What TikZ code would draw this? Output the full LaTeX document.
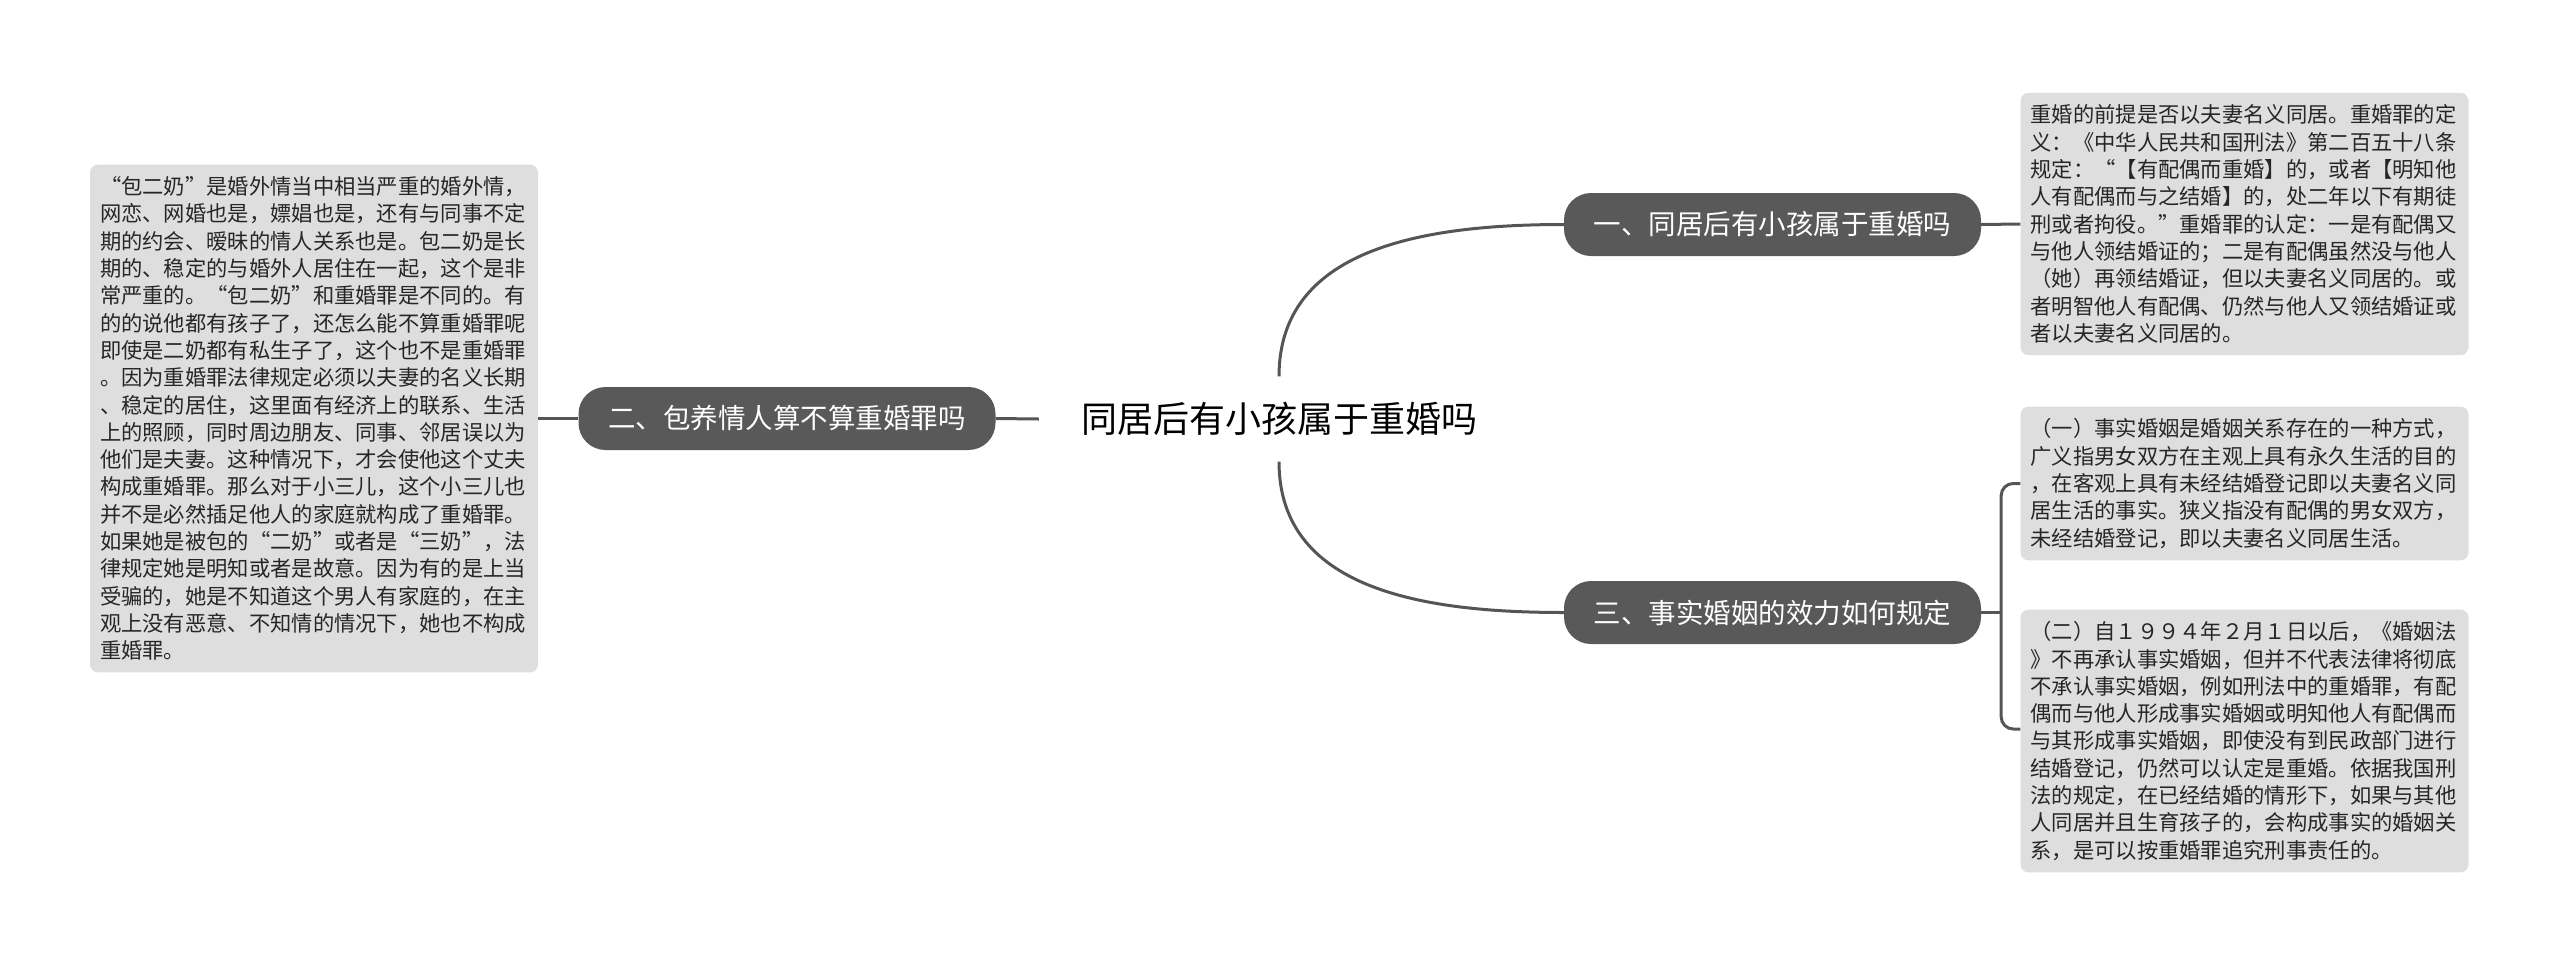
\documentclass[tikz,border=0pt]{standalone}
\usepackage{fontspec}
\setmainfont{Noto Sans CJK SC}
\usepackage{xcolor}
\definecolor{topicgray}{HTML}{595959}
\definecolor{notegray}{HTML}{DEDEDE}
\definecolor{linkgray}{HTML}{555555}

\begin{document}
\begin{tikzpicture}[x=1pt,y=-1pt,
    link/.style={draw=linkgray, line width=3pt},
    topic/.style={fill=topicgray, text=white, rounded corners=27pt, minimum width=417pt, minimum height=63pt, inner sep=0pt, font=\fontsize{27.5}{30}\selectfont},
    note/.style={fill=notegray, text=black!85, rounded corners=8pt, text width=428pt, align=left, inner xsep=10pt, inner ysep=12pt, font=\fontsize{21.3}{27.3}\selectfont}]
    % Page frame
    \useasboundingbox (0,0) rectangle (2560,967);
    % Central topic
    \node[font=\fontsize{36}{40}\selectfont, inner xsep=42pt, minimum height=85pt] (root) at (1279,419) {同居后有小孩属于重婚吗};
    % Branches
    \node[topic] (t1) at (1772.5,224.5) {一、同居后有小孩属于重婚吗};
    \node[topic] (t2) at (787,418.5) {二、包养情人算不算重婚罪吗};
    \node[topic] (t3) at (1772.5,612.5) {三、事实婚姻的效力如何规定};
    % Notes
    \node[note] (n1) at (2244.5,224) {重婚的前提是否以夫妻名义同居。重婚罪的定\\
        义：《中华人民共和国刑法》第二百五十八条\\
        规定：“【有配偶而重婚】的，或者【明知他\\
        人有配偶而与之结婚】的，处二年以下有期徒\\
        刑或者拘役。”重婚罪的认定：一是有配偶又\\
        与他人领结婚证的；二是有配偶虽然没与他人\\
        （她）再领结婚证，但以夫妻名义同居的。或\\
        者明智他人有配偶、仍然与他人又领结婚证或\\
        者以夫妻名义同居的。};
    \node[note] (n2) at (314,418.5) {“包二奶”是婚外情当中相当严重的婚外情，\\
        网恋、网婚也是，嫖娼也是，还有与同事不定\\
        期的约会、暧昧的情人关系也是。包二奶是长\\
        期的、稳定的与婚外人居住在一起，这个是非\\
        常严重的。“包二奶”和重婚罪是不同的。有\\
        的的说他都有孩子了，还怎么能不算重婚罪呢\\
        即使是二奶都有私生子了，这个也不是重婚罪\\
        。因为重婚罪法律规定必须以夫妻的名义长期\\
        、稳定的居住，这里面有经济上的联系、生活\\
        上的照顾，同时周边朋友、同事、邻居误以为\\
        他们是夫妻。这种情况下，才会使他这个丈夫\\
        构成重婚罪。那么对于小三儿，这个小三儿也\\
        并不是必然插足他人的家庭就构成了重婚罪。\\
        如果她是被包的“二奶”或者是“三奶”，法\\
        律规定她是明知或者是故意。因为有的是上当\\
        受骗的，她是不知道这个男人有家庭的，在主\\
        观上没有恶意、不知情的情况下，她也不构成\\
        重婚罪。};
    \node[note] (n3a) at (2244.5,483.5) {（一）事实婚姻是婚姻关系存在的一种方式，\\
        广义指男女双方在主观上具有永久生活的目的\\
        ，在客观上具有未经结婚登记即以夫妻名义同\\
        居生活的事实。狭义指没有配偶的男女双方，\\
        未经结婚登记，即以夫妻名义同居生活。};
    \node[note] (n3b) at (2244.5,741) {（二）自１９９４年２月１日以后，《婚姻法\\
        》不再承认事实婚姻，但并不代表法律将彻底\\
        不承认事实婚姻，例如刑法中的重婚罪，有配\\
        偶而与他人形成事实婚姻或明知他人有配偶而\\
        与其形成事实婚姻，即使没有到民政部门进行\\
        结婚登记，仍然可以认定是重婚。依据我国刑\\
        法的规定，在已经结婚的情形下，如果与其他\\
        人同居并且生育孩子的，会构成事实的婚姻关\\
        系，是可以按重婚罪追究刑事责任的。};
    % Links
    \draw[link] (root.north) .. controls +(0,-127) and +(-143,0) .. (t1.west);
    \draw[link] (root.south) .. controls +(0,127) and +(-143,0) .. (t3.west);
    \draw[link] (root.west) -- (t2.east);
    \draw[link] (t2.west) -- (n2.east);
    \draw[link] (t1.east) -- (n1.west);
    \coordinate (fork) at ([xshift=20pt]t3.east);
    \draw[link] (t3.east) -- (fork);
    \draw[link, rounded corners=12pt] (n3a.west) -| (fork) |- ([yshift=12pt]n3b.west);
\end{tikzpicture}
\end{document}
